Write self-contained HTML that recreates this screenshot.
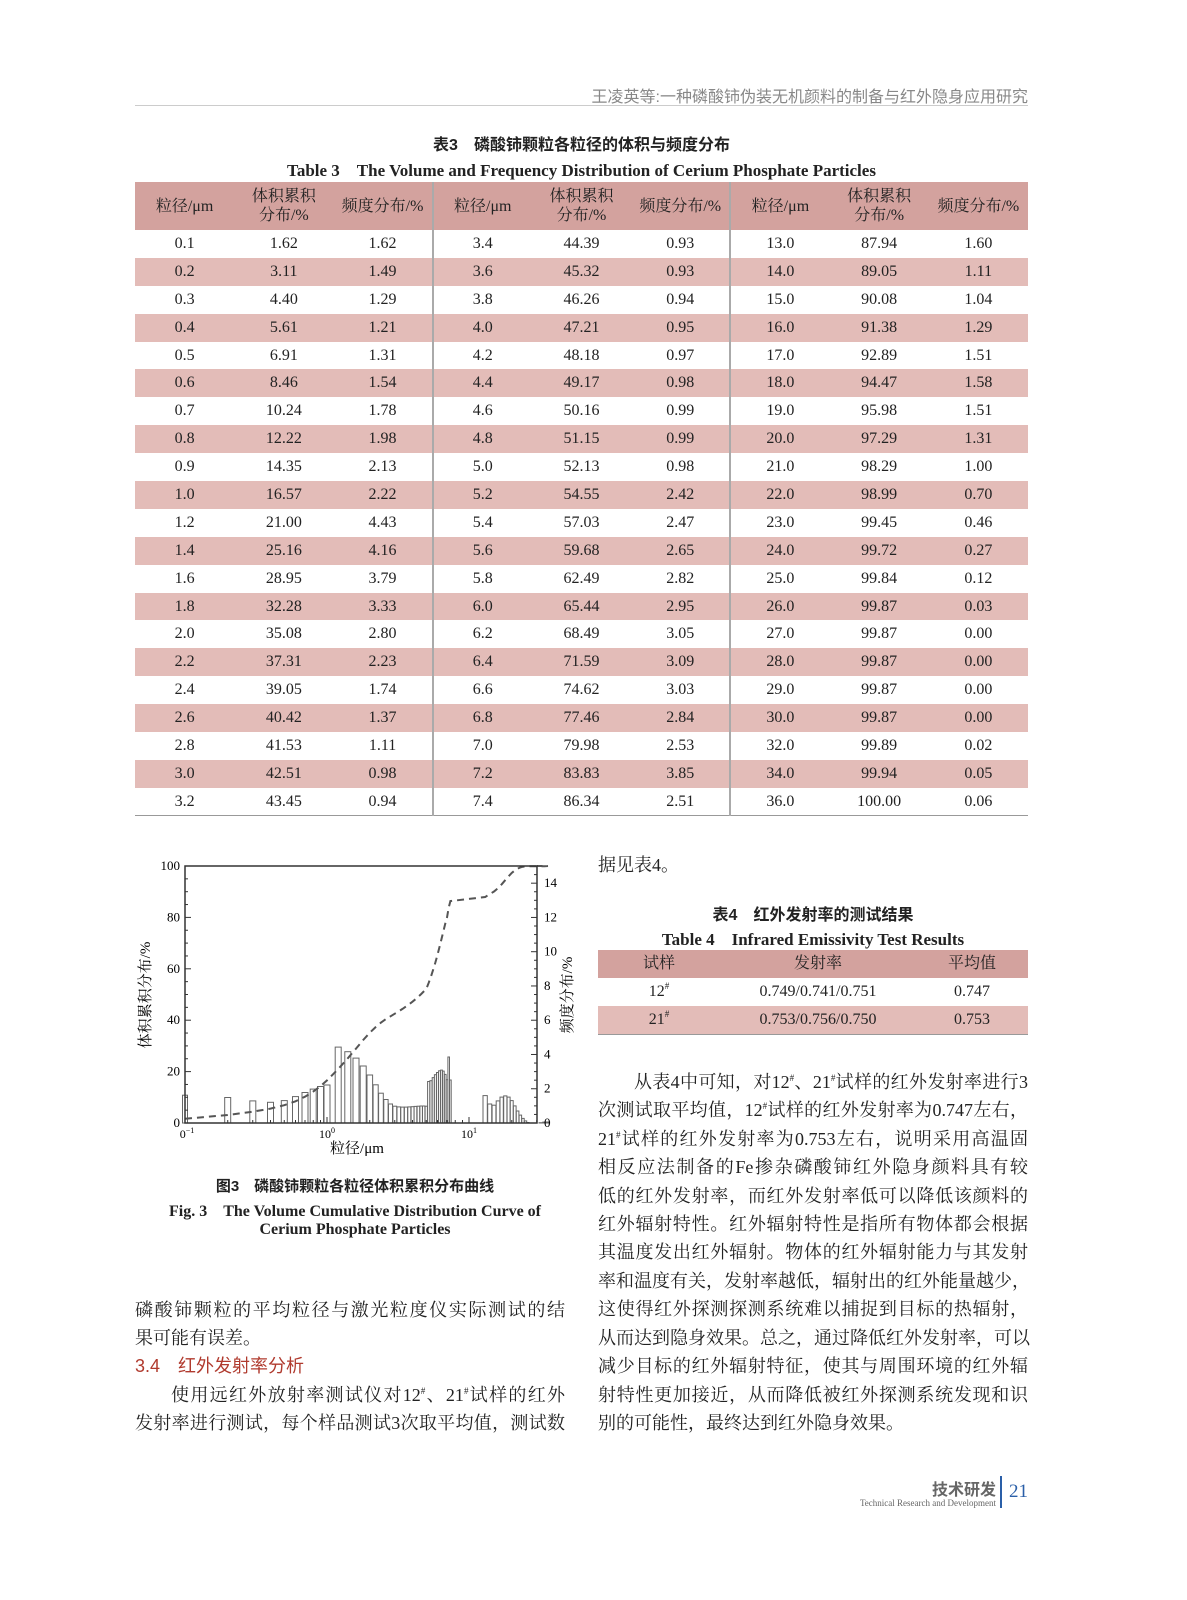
<!DOCTYPE html>
<html><head><meta charset="utf-8">
<style>
body{margin:0;background:#fff;}
#pg{position:relative;width:1187px;height:1600px;overflow:hidden;font-family:"Liberation Serif","Noto Serif CJK SC",serif;color:#222;}
.a{position:absolute;white-space:nowrap;}
.c{text-align:center;}
.ln{position:absolute;font-size:18px;width:430px;text-align:justify;text-align-last:justify;white-space:nowrap;line-height:28px;height:28px;}
sup{font-size:9px;vertical-align:7px;line-height:0;}
table{border-collapse:collapse;}
</style></head><body><div id="pg">

<div class="a" style="right:159px;top:83px;font-size:16px;color:#888;font-family:'Liberation Sans','Noto Sans CJK SC',sans-serif;">王凌英等:一种磷酸铈伪装无机颜料的制备与红外隐身应用研究</div>
<div class="a" style="left:135px;top:105px;width:893px;height:1px;background:#ccc;"></div>

<div class="a c" style="left:135px;width:893px;top:131px;font-size:16px;font-weight:bold;font-family:'Liberation Sans','Noto Sans CJK SC',sans-serif;">表3　磷酸铈颗粒各粒径的体积与频度分布</div>
<div class="a c" style="left:135px;width:893px;top:156px;font-size:17px;font-weight:bold;">Table 3　The Volume and Frequency Distribution of Cerium Phosphate Particles</div>

<div id="t3" class="a" style="left:135px;top:182px;width:893px;"></div>

<svg class="a" style="left:130px;top:850px;" width="460" height="310" id="ch"></svg>

<div class="a c" style="left:135px;width:440px;top:1175px;font-size:15px;font-weight:bold;font-family:'Liberation Sans','Noto Sans CJK SC',sans-serif;">图3　磷酸铈颗粒各粒径体积累积分布曲线</div>
<div class="a c" style="left:135px;width:440px;top:1198px;font-size:16px;font-weight:bold;">Fig. 3　The Volume Cumulative Distribution Curve of</div>
<div class="a c" style="left:135px;width:440px;top:1221px;font-size:16px;font-weight:bold;">Cerium Phosphate Particles</div>

<div class="ln" style="left:135px;top:1296px;">磷酸铈颗粒的平均粒径与激光粒度仪实际测试的结</div>
<div class="ln" style="left:135px;top:1324px;text-align-last:left;">果可能有误差。</div>
<div class="a" style="left:135px;top:1352px;font-size:18px;color:#b03a2e;font-family:'Liberation Sans','Noto Sans CJK SC',sans-serif;">3.4　红外发射率分析</div>
<div class="ln" style="left:135px;top:1381px;padding-left:36px;width:394px;">使用远红外放射率测试仪对12<sup>#</sup>、21<sup>#</sup>试样的红外</div>
<div class="ln" style="left:135px;top:1409px;">发射率进行测试，每个样品测试3次取平均值，测试数</div>

<div class="a" style="left:598px;top:851px;font-size:18px;">据见表4。</div>
<div class="a c" style="left:598px;width:430px;top:901px;font-size:16px;font-weight:bold;font-family:'Liberation Sans','Noto Sans CJK SC',sans-serif;">表4　红外发射率的测试结果</div>
<div class="a c" style="left:598px;width:430px;top:925px;font-size:17px;font-weight:bold;">Table 4　Infrared Emissivity Test Results</div>
<div class="a" style="left:598px;top:950px;width:430px;font-size:16px;">
<div style="display:flex;height:28px;line-height:28px;background:#d3a29e;"><div style="width:122px;text-align:center">试样</div><div style="width:196px;text-align:center">发射率</div><div style="width:112px;text-align:center">平均值</div></div>
<div style="display:flex;height:28px;line-height:28px;"><div style="width:122px;text-align:center">12<sup>#</sup></div><div style="width:196px;text-align:center">0.749/0.741/0.751</div><div style="width:112px;text-align:center">0.747</div></div>
<div style="display:flex;height:28px;line-height:28px;background:#e3bcb8;border-bottom:1px solid #999"><div style="width:122px;text-align:center">21<sup>#</sup></div><div style="width:196px;text-align:center">0.753/0.756/0.750</div><div style="width:112px;text-align:center">0.753</div></div>
</div>

<div class="ln" style="left:598px;top:1068px;padding-left:36px;width:394px;">从表4中可知，对12<sup>#</sup>、21<sup>#</sup>试样的红外发射率进行3</div>
<div class="ln" style="left:598px;top:1096px;">次测试取平均值，12<sup>#</sup>试样的红外发射率为0.747左右，</div>
<div class="ln" style="left:598px;top:1125px;">21<sup>#</sup>试样的红外发射率为0.753左右，说明采用高温固</div>
<div class="ln" style="left:598px;top:1153px;">相反应法制备的Fe掺杂磷酸铈红外隐身颜料具有较</div>
<div class="ln" style="left:598px;top:1182px;">低的红外发射率，而红外发射率低可以降低该颜料的</div>
<div class="ln" style="left:598px;top:1210px;">红外辐射特性。红外辐射特性是指所有物体都会根据</div>
<div class="ln" style="left:598px;top:1238px;">其温度发出红外辐射。物体的红外辐射能力与其发射</div>
<div class="ln" style="left:598px;top:1267px;">率和温度有关，发射率越低，辐射出的红外能量越少，</div>
<div class="ln" style="left:598px;top:1295px;">这使得红外探测探测系统难以捕捉到目标的热辐射，</div>
<div class="ln" style="left:598px;top:1324px;">从而达到隐身效果。总之，通过降低红外发射率，可以</div>
<div class="ln" style="left:598px;top:1352px;">减少目标的红外辐射特征，使其与周围环境的红外辐</div>
<div class="ln" style="left:598px;top:1381px;">射特性更加接近，从而降低被红外探测系统发现和识</div>
<div class="ln" style="left:598px;top:1409px;text-align-last:left;">别的可能性，最终达到红外隐身效果。</div>

<div class="a" style="right:191px;top:1476px;font-size:16px;font-weight:bold;color:#666;font-family:'Liberation Sans','Noto Sans CJK SC',sans-serif;">技术研发</div>
<div class="a" style="right:191px;top:1498px;font-size:9px;color:#666;">Technical Research and Development</div>
<div class="a" style="left:1000px;top:1476px;width:2px;height:32px;background:#2a5fa8;"></div>
<div class="a" style="left:1009px;top:1481px;font-size:19px;color:#2a5fa8;">21</div>

<script>
var c1=[[0.1,1.62,1.62],[0.2,3.11,1.49],[0.3,4.40,1.29],[0.4,5.61,1.21],[0.5,6.91,1.31],[0.6,8.46,1.54],[0.7,10.24,1.78],[0.8,12.22,1.98],[0.9,14.35,2.13],[1.0,16.57,2.22],[1.2,21.00,4.43],[1.4,25.16,4.16],[1.6,28.95,3.79],[1.8,32.28,3.33],[2.0,35.08,2.80],[2.2,37.31,2.23],[2.4,39.05,1.74],[2.6,40.42,1.37],[2.8,41.53,1.11],[3.0,42.51,0.98],[3.2,43.45,0.94]];
var c2=[[3.4,44.39,0.93],[3.6,45.32,0.93],[3.8,46.26,0.94],[4.0,47.21,0.95],[4.2,48.18,0.97],[4.4,49.17,0.98],[4.6,50.16,0.99],[4.8,51.15,0.99],[5.0,52.13,0.98],[5.2,54.55,2.42],[5.4,57.03,2.47],[5.6,59.68,2.65],[5.8,62.49,2.82],[6.0,65.44,2.95],[6.2,68.49,3.05],[6.4,71.59,3.09],[6.6,74.62,3.03],[6.8,77.46,2.84],[7.0,79.98,2.53],[7.2,83.83,3.85],[7.4,86.34,2.51]];
var c3=[[13,87.94,1.60],[14,89.05,1.11],[15,90.08,1.04],[16,91.38,1.29],[17,92.89,1.51],[18,94.47,1.58],[19,95.98,1.51],[20,97.29,1.31],[21,98.29,1.00],[22,98.99,0.70],[23,99.45,0.46],[24,99.72,0.27],[25,99.84,0.12],[26,99.87,0.03],[27,99.87,0],[28,99.87,0],[29,99.87,0],[30,99.87,0],[32,99.89,0.02],[34,99.94,0.05],[36,100,0.06]];
var h='<table style="width:893px;font-size:16px;table-layout:fixed">';
h+='<tr style="background:#d3a29e;height:48px;line-height:19px">';
for(var k=0;k<3;k++){var bl=k?'border-left:2px solid #aaa;':'';h+='<td class="c" style="'+bl+'">粒径/μm</td><td class="c">体积累积<br>分布/%</td><td class="c">频度分布/%</td>';}
h+='</tr>';
for(var i=0;i<21;i++){h+='<tr style="height:27.9px;'+(i%2?'background:#e3bcb8':'')+'">';
[c1,c2,c3].forEach(function(c,k){var bl=k?'border-left:2px solid #aaa;':'';var d=c[i][0];
h+='<td class="c" style="'+bl+'padding:0">'+d.toFixed(1)+'</td><td class="c" style="padding:0">'+c[i][1].toFixed(2)+'</td><td class="c" style="padding:0">'+c[i][2].toFixed(2)+'</td>';});
h+='</tr>';}
h+='<tr><td colspan="9" style="border-top:1px solid #999;padding:0;height:0"></td></tr></table>';
document.getElementById('t3').innerHTML=h;

var all=c1.concat(c2,c3),ox=130,oy=850;
function X(d){return 185+142*(Math.log10(d)+1)-ox;}
function YL(v){return 1123-oy-v*2.57;}
function YR(v){return 1123-oy-v*17.13;}
var s='';
for(var i=0;i<all.length;i++){var d=all[i][0],f=all[i][2];if(f<=0)continue;var x=X(d);
var nx=i+1<all.length?X(all[i+1][0]):x+6,px=i>0?X(all[i-1][0]):x-6;var w=Math.min(6,Math.min(nx-x,x-px)*0.95);if(i==0)w=5;
s+='<rect x="'+(x-w/2).toFixed(1)+'" y="'+YR(f).toFixed(1)+'" width="'+w.toFixed(1)+'" height="'+(YR(0)-YR(f)).toFixed(1)+'" fill="#fff" stroke="#666" stroke-width="1"/>';}
var p='';for(var i=0;i<all.length;i++){p+=(i?'L':'M')+X(all[i][0]).toFixed(1)+','+YL(all[i][1]).toFixed(1);}
p+='L'+(537-ox)+','+YL(100).toFixed(1);
s+='<path d="'+p+'" fill="none" stroke="#555" stroke-width="2" stroke-dasharray="7,5"/>';
var L=185-ox,R=537-ox,T=866-oy,B=1123-oy;
s+='<rect x="'+L+'" y="'+T+'" width="'+(R-L)+'" height="'+(B-T)+'" fill="none" stroke="#333" stroke-width="1.5"/>';
for(var v=0;v<=100;v+=5){var y=YL(v);s+='<line x1="'+L+'" x2="'+(L+(v%20?3:6))+'" y1="'+y+'" y2="'+y+'" stroke="#333"/>';
if(v%20==0)s+='<text x="'+(L-5)+'" y="'+(y+4)+'" font-size="13" text-anchor="end">'+v+'</text>';}
for(var v=0;v<=15;v+=0.5){var y=YR(v);s+='<line x1="'+R+'" x2="'+(R-(v%2?3:6))+'" y1="'+y+'" y2="'+y+'" stroke="#333"/>';
if(v%2==0)s+='<text x="'+(R+7)+'" y="'+(y+4)+'" font-size="13">'+v+'</text>';}
for(var e=-1;e<=1;e++)for(var m=1;m<10;m++){var d=m*Math.pow(10,e);var x=X(d);if(x>R)break;s+='<line x1="'+x+'" x2="'+x+'" y1="'+B+'" y2="'+(B-(m==1?6:3))+'" stroke="#333"/>';}
s+='<text x="'+(X(0.1)+2)+'" y="'+(B+15)+'" font-size="12" text-anchor="middle">0<tspan font-size="8" dy="-5">−1</tspan></text>';
s+='<text x="'+X(1)+'" y="'+(B+15)+'" font-size="12" text-anchor="middle">10<tspan font-size="8" dy="-5">0</tspan></text>';
s+='<text x="'+X(10)+'" y="'+(B+15)+'" font-size="12" text-anchor="middle">10<tspan font-size="8" dy="-5">1</tspan></text>';
s+='<text x="'+(X(1)+30)+'" y="'+(B+30)+'" font-size="15" text-anchor="middle" font-family="Liberation Serif,Noto Serif CJK SC,serif">粒径/μm</text>';
s+='<text transform="translate(20,'+(995-oy)+') rotate(-90)" font-size="15" text-anchor="middle" font-family="Liberation Serif,Noto Serif CJK SC,serif">体积累积分布/%</text>';
s+='<text transform="translate(442,'+(995-oy)+') rotate(-90)" font-size="15" text-anchor="middle" font-family="Liberation Serif,Noto Serif CJK SC,serif">频度分布/%</text>';
document.getElementById('ch').innerHTML=s;
</script>
</div></body></html>
